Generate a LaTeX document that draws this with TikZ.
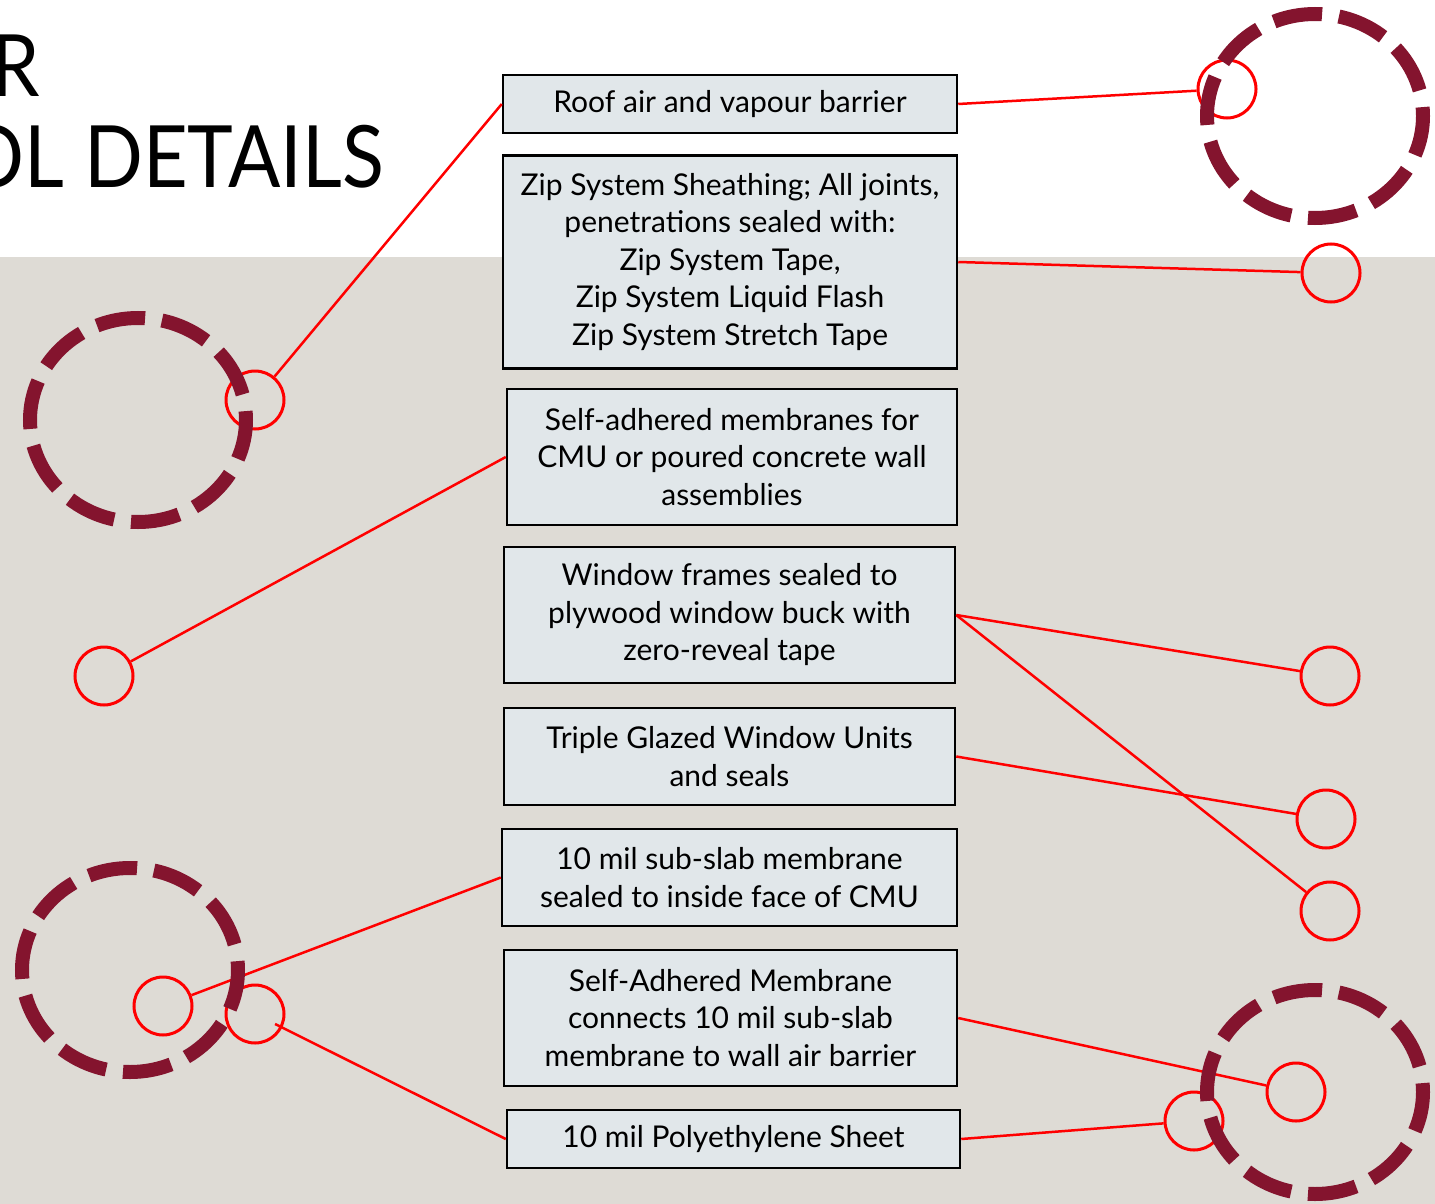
\documentclass[tikz,border=0pt]{standalone}
\usepackage{fontspec}
\setmainfont{Lato}
\newfontfamily\titlefont[FakeStretch=0.9]{Lato}
\usetikzlibrary{calc}
\definecolor{bandgray}{HTML}{DEDBD5}
\definecolor{boxfill}{HTML}{E1E7EA}
\definecolor{ringred}{HTML}{84142E}
\tikzset{
  label box/.style={draw=black, line width=2.5pt, fill=boxfill, align=center, inner sep=0pt,
    font=\fontsize{30}{37.5}\selectfont},
  spot/.style={draw=red, line width=3pt, circle, minimum size=58pt, inner sep=0pt},
  lead/.style={red, line width=2.5pt},
  bigring/.style={ringred, line width=14pt, dash pattern=on 49pt off 17pt, dash phase=9pt},
  title/.style={anchor=base east, inner sep=0pt, font=\titlefont\fontsize{86}{90}\selectfont}
}

\begin{document}
\begin{tikzpicture}[x=1pt, y=-1pt]
\useasboundingbox (0,0) rectangle (1435,1204);
\fill[white] (0,0) rectangle (1435,257);
\fill[bandgray] (0,257) rectangle (1435,1204);
\clip (0,0) rectangle (1435,1204);

% title, cut off at the left
\node[title] (titleA) at (40,97) {R};
\node[title] (titleB) at (384,187) {OL DETAILS};

% labels
\node[label box, minimum width=454pt, minimum height=58pt] (roof) at (730,104) {Roof air and vapour barrier};
\node[label box, minimum width=454pt, minimum height=213pt] (zip) at (730,262) {Zip System Sheathing; All joints,\\ penetrations sealed with:\\ Zip System Tape,\\ Zip System Liquid Flash\\ Zip System Stretch Tape};
\node[label box, minimum width=450pt, minimum height=136pt] (cmu) at (732,457) {Self-adhered membranes for\\ CMU or poured concrete wall\\ assemblies};
\node[label box, minimum width=451pt, minimum height=136pt] (window) at (729.5,615) {Window frames sealed to\\ plywood window buck with\\ zero-reveal tape};
\node[label box, minimum width=451pt, minimum height=97pt] (glazing) at (729.5,756.5) {Triple Glazed Window Units\\ and seals};
\node[label box, minimum width=455pt, minimum height=97pt] (subslab) at (729.5,877.5) {10 mil sub-slab membrane\\ sealed to inside face of CMU};
\node[label box, minimum width=453pt, minimum height=136pt] (sam) at (730.5,1018) {Self-Adhered Membrane\\ connects 10 mil sub-slab\\ membrane to wall air barrier};
\node[label box, minimum width=453pt, minimum height=58pt] (poly) at (733.5,1139) {10 mil Polyethylene Sheet};

% spots
\node[spot] (o1) at (1227,89) {};
\node[spot] (o2) at (1331,273) {};
\node[spot] (o3) at (255,400) {};
\node[spot] (o4) at (104,676) {};
\node[spot] (o5) at (1330,676) {};
\node[spot] (o6) at (1326,819) {};
\node[spot] (o7) at (1330,911) {};
\node[spot] (o8) at (163,1006) {};
\node[spot] (o9) at (255,1014) {};
\node[spot] (o10) at (1296,1092) {};
\node[spot] (o11) at (1194,1121) {};

% leaders
\draw[lead] (roof.west) -- (o3);
\draw[lead] (roof.east) -- (o1);
\draw[lead] (zip.east) -- (o2);
\draw[lead] (cmu.west) -- (o4);
\draw[lead] (window.east) -- (o5);
\draw[lead] (window.east) -- (o7);
\draw[lead] (glazing.east) -- (o6);
\draw[lead] (subslab.west) -- (o8);
\draw[lead] (sam.east) -- (o10);
\draw[lead] (poly.west) -- ($(o9.center)!0.08!(poly.west)$);
\draw[lead] (poly.east) -- (o11);

% detail rings
\foreach \cx/\cy in {1315/116, 138/420, 130/970, 1315/1092}
  \draw[bigring] (\cx,\cy) ellipse (108 and 102);
\end{tikzpicture}
\end{document}
